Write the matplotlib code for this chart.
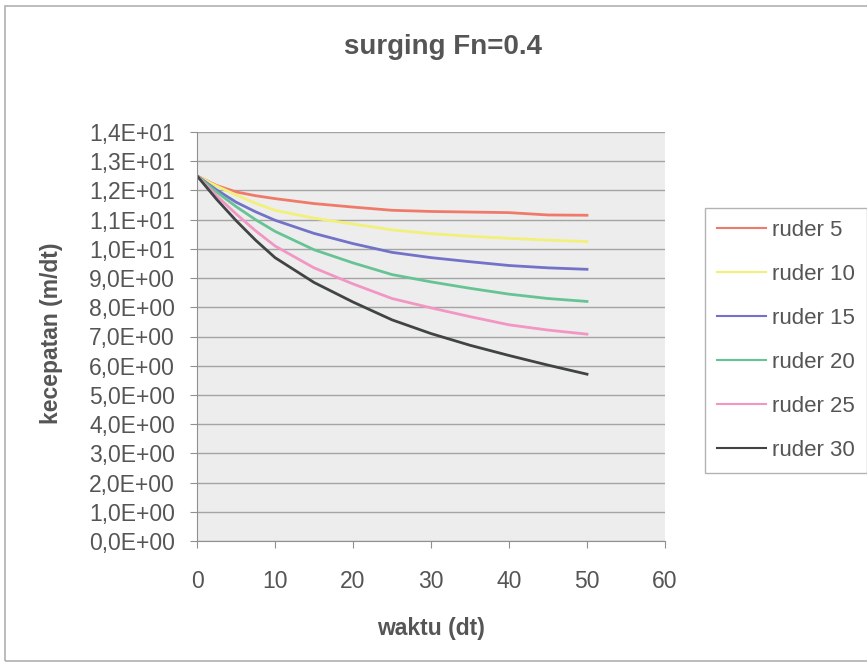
import matplotlib
matplotlib.use("Agg")
import matplotlib.pyplot as plt
from matplotlib.ticker import FuncFormatter, MultipleLocator
from matplotlib.patches import Rectangle

plt.rcParams['font.family'] = ['Liberation Sans', 'DejaVu Sans']

waktu = [0, 2.5, 5, 7.5, 10, 15, 20, 25, 30, 35, 40, 45, 50]
ruder_5 = [12.5, 12.17, 11.95, 11.82, 11.72, 11.55, 11.43, 11.32, 11.28, 11.26, 11.24, 11.16, 11.15]
ruder_10 = [12.5, 12.15, 11.85, 11.56, 11.32, 11.05, 10.85, 10.65, 10.52, 10.43, 10.36, 10.30, 10.25]
ruder_15 = [12.5, 12.02, 11.60, 11.27, 10.98, 10.53, 10.18, 9.88, 9.70, 9.56, 9.43, 9.35, 9.30]
ruder_20 = [12.5, 11.95, 11.45, 11.00, 10.60, 9.97, 9.52, 9.12, 8.87, 8.65, 8.45, 8.30, 8.20]
ruder_25 = [12.5, 11.82, 11.20, 10.62, 10.10, 9.35, 8.80, 8.30, 7.98, 7.68, 7.40, 7.22, 7.08]
ruder_30 = [12.5, 11.70, 10.97, 10.30, 9.70, 8.85, 8.18, 7.57, 7.10, 6.70, 6.35, 6.02, 5.71]

labels = ['ruder 5', 'ruder 10', 'ruder 15', 'ruder 20', 'ruder 25', 'ruder 30']
series = [ruder_5, ruder_10, ruder_15, ruder_20, ruder_25, ruder_30]
colors = ['#f07a6a', '#f2f07a', '#7272c8', '#66c494', '#f296c4', '#404444']

text_color = '#555555'

fig = plt.figure(figsize=(8.67, 6.67), dpi=100)
fig.patch.set_facecolor('white')
fig.patches.append(Rectangle((5/867, 1 - 661/667), 870/867, 655/667,
                             transform=fig.transFigure, fill=False,
                             edgecolor='#b0b0b0', linewidth=1.2))

ax = fig.add_axes([197/867, 1 - 541/667, 468/867, 409/667])
ax.set_facecolor('#ededed')

for ys, lab, c in zip(series, labels, colors):
    ax.plot(waktu, ys, color=c, linewidth=2.0, label=lab)

ax.set_xlim(0, 60)
ax.set_ylim(0, 14)
ax.xaxis.set_major_locator(MultipleLocator(10))
ax.yaxis.set_major_locator(MultipleLocator(1))
ax.yaxis.set_major_formatter(FuncFormatter(lambda v, p: f"{v:.1E}".replace('.', ',')))
ax.grid(axis='y', color='#a4a4a4', linewidth=1.0)
ax.set_axisbelow(True)
for s in ['top', 'right']:
    ax.spines[s].set_visible(False)
for s in ['left', 'bottom']:
    ax.spines[s].set_color('#909090')
ax.tick_params(axis='both', colors='#909090', labelcolor=text_color,
               labelsize=16.5, length=5, direction='out')
ax.tick_params(axis='x', pad=16)
ax.tick_params(axis='y', pad=11)

ax.set_xlabel('waktu (dt)', fontsize=16.5, fontweight='bold', color=text_color)
ax.set_ylabel('kecepatan (m/dt)', fontsize=16.5, fontweight='bold', color=text_color)
ax.xaxis.set_label_coords(0.5, (541 - 628) / 409)
ax.yaxis.set_label_coords((52 - 197) / 468, (541 - 333) / 409)
ax.xaxis.label.set_va('center')
ax.yaxis.label.set_va('center')
ax.yaxis.label.set_ha('center')

fig.canvas.draw()
gl = ax.yaxis.get_gridlines()
if len(gl):
    gl[-1].set_visible(False)

fig.text(443/867, 1 - 47/667, 'surging Fn=0.4', ha='center', va='center',
         fontsize=20, fontweight='bold', color=text_color)

leg = fig.legend(loc='upper left', bbox_to_anchor=(705/867, 1 - 208/667),
                 fontsize=16, frameon=True, fancybox=False, labelspacing=1.03,
                 handlelength=2.2, handletextpad=0.25, borderpad=0.55,
                 borderaxespad=0)
leg.get_frame().set_edgecolor('#a0a0a0')
leg.get_frame().set_linewidth(1.0)
for t in leg.get_texts():
    t.set_color(text_color)
for h in leg.get_lines():
    h.set_linewidth(1.5)

fig.savefig('out.png', dpi=100)
